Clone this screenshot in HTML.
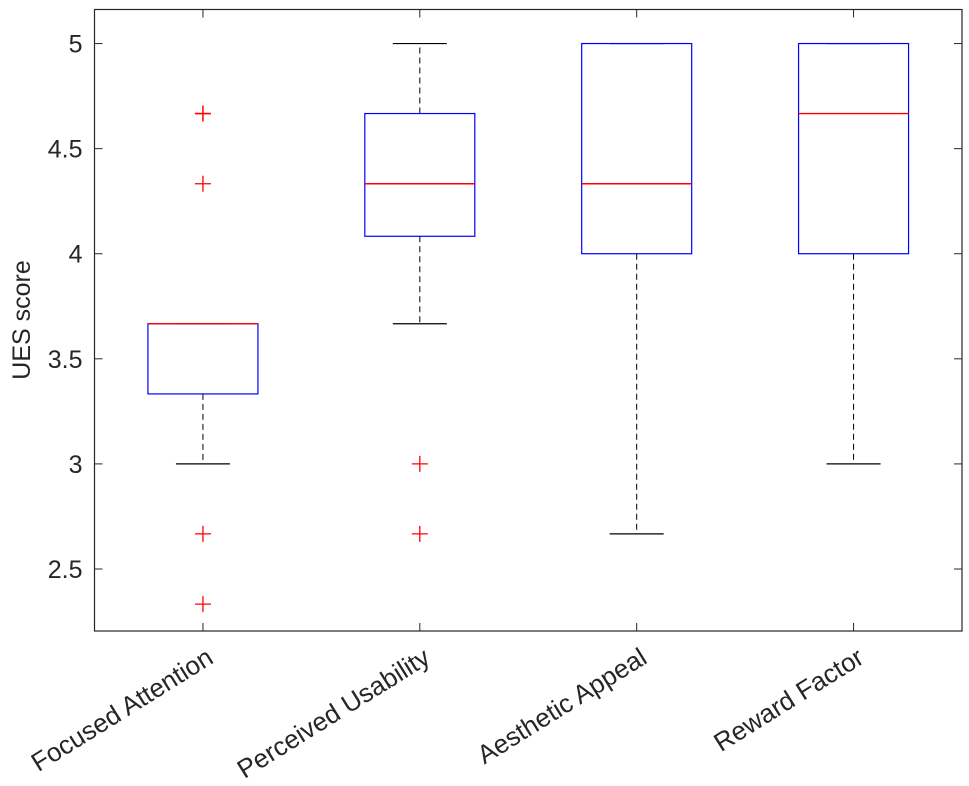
<!DOCTYPE html>
<html><head><meta charset="utf-8"><style>
html,body{margin:0;padding:0;background:#fff;}
svg{display:block;font-family:"Liberation Sans",Arial,sans-serif;}
</style></head><body>
<svg id="chart" width="969" height="786">
<rect x="0" y="0" width="969" height="786" fill="#fff"/>
<g id="plot"></g>
<g id="axes"></g>
<text x="30" y="320" transform="rotate(-90 30 320)" text-anchor="middle" font-size="25" fill="#262626">UES score</text>
</svg>
<script>
const categories = ["Focused Attention","Perceived Usability","Aesthetic Appeal","Reward Factor"];
const q1 = [3.333, 4.083, 4.0, 4.0];
const medians = [3.667, 4.333, 4.333, 4.667];
const q3 = [3.667, 4.667, 5.0, 5.0];
const whiskerLow = [3.0, 3.667, 2.667, 3.0];
const whiskerHigh = [3.667, 5.0, 5.0, 5.0];
const outliers = [[4.667, 4.667, 4.333, 2.667, 2.333], [3.0, 2.667], [], []];
const yTicks = [2.5, 3, 3.5, 4, 4.5, 5];
const yTickLabels = ["2.5","3","3.5","4","4.5","5"];

const L = 94.5, R = 962, T = 9.5, B = 631;
const yMin = 2.205, yMax = 5.162;
const ns = "http://www.w3.org/2000/svg";
function y(v){ return B - (v - yMin) / (yMax - yMin) * (B - T); }
function x(i){ return L + (i + 0.5) * (R - L) / categories.length; }
function mk(tag, attrs, parent){
  const e = document.createElementNS(ns, tag);
  for (const k in attrs) e.setAttribute(k, attrs[k]);
  parent.appendChild(e); return e;
}
const plot = document.getElementById('plot');
const axes = document.getElementById('axes');
const hw = 55, cw = 27;
categories.forEach((c, i) => {
  const cx = x(i);
  const g = mk('g', {}, plot);
  
  
  const w1 = mk('line', {x1:cx, x2:cx, y1:y(q3[i]), y2:y(whiskerHigh[i]), stroke:'#000', 'stroke-width':1, 'stroke-dasharray':'6,4'}, g);
  
  
  const w2 = mk('line', {x1:cx, x2:cx, y1:y(q1[i]), y2:y(whiskerLow[i]), stroke:'#000', 'stroke-width':1, 'stroke-dasharray':'6,4'}, g);
  
  
  const c1 = mk('line', {x1:cx-cw, x2:cx+cw, y1:y(whiskerHigh[i]), y2:y(whiskerHigh[i]), stroke:'#000', 'stroke-width':1.2}, g);
  
  
  const c2 = mk('line', {x1:cx-cw, x2:cx+cw, y1:y(whiskerLow[i]), y2:y(whiskerLow[i]), stroke:'#000', 'stroke-width':1.2}, g);
  
  
  const bx = mk('rect', {x:cx-hw, y:y(q3[i]), width:2*hw, height:y(q1[i])-y(q3[i]), fill:'none', stroke:'#0000ff', 'stroke-width':1.2}, g);
  
  
  const md = mk('line', {x1:cx-hw, x2:cx+hw, y1:y(medians[i]), y2:y(medians[i]), stroke:'#ff0000', 'stroke-width':1.4}, g);
  
  
  outliers[i].forEach(v => {
    const p = mk('path', {d:`M${cx-8},${y(v)}H${cx+8}M${cx},${y(v)-8}V${y(v)+8}`, stroke:'#ff0000', 'stroke-width':1.3, fill:'none'}, g);
    
    
  });
  const tt = mk('line', {x1:cx, x2:cx, y1:T, y2:T+8, stroke:'#262626'}, axes);
  
  
  const tb = mk('line', {x1:cx, x2:cx, y1:B, y2:B-8, stroke:'#262626'}, axes);
  
  
  const lx = cx + 12, ly = 662;
  const lbl = mk('text', {x:lx, y:ly, transform:`rotate(-32 ${lx} ${ly})`, 'text-anchor':'end', 'font-size':26, fill:'#262626'}, axes);
  lbl.textContent = c;
  
  
});
yTicks.forEach((v, k) => {
  const t1 = mk('line', {x1:L, x2:L+8, y1:y(v), y2:y(v), stroke:'#262626'}, axes);
  
  
  const t2 = mk('line', {x1:R, x2:R-8, y1:y(v), y2:y(v), stroke:'#262626'}, axes);
  
  
  const lb = mk('text', {x:L-12, y:y(v)+9, 'text-anchor':'end', 'font-size':25, fill:'#262626'}, axes);
  lb.textContent = yTickLabels[k];
  
  
});
const fr = mk('rect', {x:L, y:T, width:R-L, height:B-T, fill:'none', stroke:'#262626', 'stroke-width':1.2}, axes);


</script>
</body></html>
